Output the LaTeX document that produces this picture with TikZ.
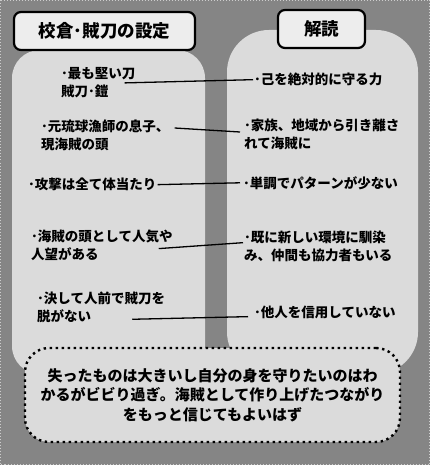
\documentclass[tikz,border=0pt]{standalone}
\usepackage{fontspec}
\setmainfont{Noto Sans CJK JP}
\usepackage{xcolor}
\usepackage{tikz}
\usetikzlibrary{positioning,calc}

\definecolor{bggray}{gray}{0.52}
\definecolor{panelgray}{gray}{0.86}
\definecolor{titlegray}{gray}{0.93}

\begin{document}
\begin{tikzpicture}[
    x=1pt, y=-1pt,
    panel/.style={fill=panelgray, rounded corners=#1},
    title/.style={draw, line width=2.2pt, rounded corners=7pt, fill=titlegray, minimum height=38pt, font=\fontsize{17.5}{20}\selectfont\bfseries, inner sep=0pt},
    item/.style={anchor=north west, align=left, inner sep=1pt, font=\fontsize{13.5}{18}\selectfont\bfseries},
    link/.style={line width=1.3pt},
    note/.style={draw, line width=2.4pt, dash pattern=on 2.4pt off 3.6pt, rounded corners=24pt, fill=panelgray, align=center, minimum width=375pt, minimum height=94pt, font=\fontsize{15}{19.5}\selectfont\bfseries},
]

% Background and frame
\fill[bggray] (0,0) rectangle (430,465);
\draw[white!80!black, line width=1pt, dotted] (0.5,0.5) rectangle (429.5,464.5);

% Panels
\fill[panel=28pt] (12,50) rectangle (205,374);
\fill[panel=42pt] (227,30) rectangle (418,374);

% Titles
\node[title, minimum width=181pt] (setting) at (104.5,31) {校倉･賊刀の設定};
\node[title, minimum width=87pt] (reading) at (321.5,29) {解読};

% Left column
\node[item] (l1) at (60,66) {･最も堅い刀\\賊刀･鎧};
\node[item] (l2) at (40,119) {･元琉球漁師の息子、\\現海賊の頭};
\node[item] (l3) at (27,177) {･攻撃は全て体当たり};
\node[item] (l4) at (30,229) {･海賊の頭として人気や\\人望がある};
\node[item] (l5) at (36,291) {･決して人前で賊刀を\\脱がない};

% Right column
\node[item] (r1) at (253,72) {･己を絶対的に守る力};
\node[item] (r2) at (243,118) {･家族、地域から引き離さ\\れて海賊に};
\node[item] (r3) at (242,175) {･単調でパターンが少ない};
\node[item] (r4) at (243,230) {･既に新しい環境に馴染\\み、仲間も協力者もいる};
\node[item] (r5) at (253,305) {･他人を信用していない};

% Links
\draw[link] ([xshift=-12pt,yshift=16pt]l1.south east) -- (r1.west);
\draw[link] ([xshift=4pt,yshift=-9pt]l2.north east) -- ([xshift=-3pt,yshift=-14pt]r2.north west);
\draw[link] (l3.east) -- ([xshift=-2pt]r3.west);
\draw[link] ([xshift=-15pt,yshift=-3pt]l4.east) -- ([yshift=4pt]r4.west);
\draw[link] ([xshift=-34pt,yshift=5pt]l5.south east) -- ([xshift=-5pt,yshift=-4pt]r5.west);

% Conclusion
\node[note] (summary) at (212.5,395) {失ったものは大きいし自分の身を守りたいのはわ\\かるがビビり過ぎ。海賊として作り上げたつながり\\をもっと信じてもよいはず};

\end{tikzpicture}
\end{document}
